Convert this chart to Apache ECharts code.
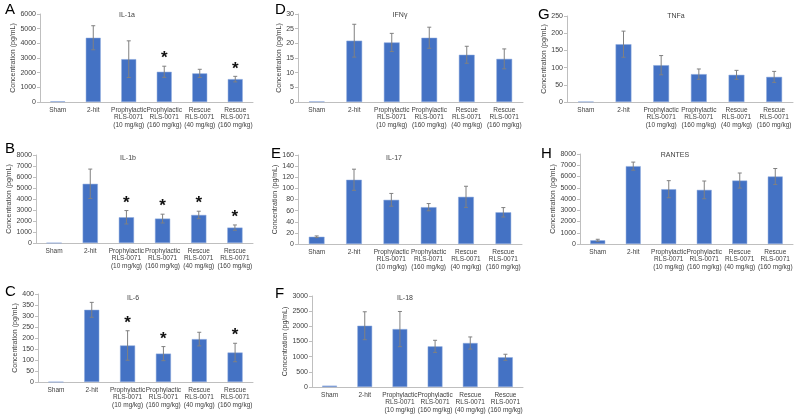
<!DOCTYPE html>
<html><head><meta charset="utf-8">
<script src="https://cdn.jsdelivr.net/npm/echarts@6/dist/echarts.min.js"></script>
<style>html,body{margin:0;padding:0;background:#fff}#c{width:800px;height:414px}</style>
</head><body><div id="c"></div>
<script>
const categories = ['Sham', '2-hit', 'Prophylactic\nRLS-0071\n(10 mg/kg)', 'Prophylactic\nRLS-0071\n(160 mg/kg)', 'Rescue\nRLS-0071\n(40 mg/kg)', 'Rescue\nRLS-0071\n(160 mg/kg)'];

const il1aMean = [50, 4380, 2920, 2060, 1950, 1560];
const il1aSd   = [0, 820, 1250, 380, 280, 190];
const il1aStar = [0, 0, 0, 1, 0, 1];

const il1bMean = [0, 5380, 2340, 2220, 2550, 1400];
const il1bSd   = [0, 1340, 610, 400, 340, 240];
const il1bStar = [0, 0, 1, 1, 1, 1];

const il6Mean = [0, 328, 166, 129, 195, 134];
const il6Sd   = [0, 34, 67, 32, 31, 42];
const il6Star = [0, 0, 1, 1, 0, 1];

const ifngMean = [0.2, 20.9, 20.3, 21.9, 16.1, 14.7];
const ifngSd   = [0, 5.6, 3.1, 3.6, 2.9, 3.4];
const ifngStar = [0, 0, 0, 0, 0, 0];

const il17Mean = [13, 115.5, 79.4, 66.2, 84.8, 57];
const il17Sd   = [1.5, 19, 11.5, 6.5, 19, 8.5];
const il17Star = [0, 0, 0, 0, 0, 0];

const il18Mean = [44, 2020, 1910, 1340, 1450, 980];
const il18Sd   = [0, 460, 580, 200, 200, 100];
const il18Star = [0, 0, 0, 0, 0, 0];

const tnfaMean = [1, 168, 107, 81, 79, 73];
const tnfaSd   = [0, 38, 28, 15, 13, 16];
const tnfaStar = [0, 0, 0, 0, 0, 0];

const rantesMean = [330, 6920, 4870, 4810, 5640, 6000];
const rantesSd   = [90, 360, 760, 790, 670, 710];
const rantesStar = [0, 0, 0, 0, 0, 0];

const yMax = { A: 6000, B: 8000, C: 400, D: 30, E: 160, F: 3000, G: 250, H: 8000 };
const yStep = { A: 1000, B: 1000, C: 50, D: 5, E: 20, F: 500, G: 50, H: 1000 };

const panels = [
  { letter: 'A', title: 'IL-1a', mean: il1aMean, sd: il1aSd, star: il1aStar, g: [40, 14, 213, 88], tx: 127, ty: 15, lx: 5, ly: 2, ng: 20 },
  { letter: 'B', title: 'IL-1b', mean: il1bMean, sd: il1bSd, star: il1bStar, g: [36, 155, 217, 88], tx: 128, ty: 158, lx: 5, ly: 141, ng: 20 },
  { letter: 'C', title: 'IL-6', mean: il6Mean, sd: il6Sd, star: il6Star, g: [38, 294, 215, 88], tx: 133, ty: 298, lx: 5, ly: 284, ng: 15 },
  { letter: 'D', title: 'IFNγ', mean: ifngMean, sd: ifngSd, star: ifngStar, g: [298, 14, 225, 88], tx: 400, ty: 15, lx: 275, ly: 2, ng: 11 },
  { letter: 'E', title: 'IL-17', mean: il17Mean, sd: il17Sd, star: il17Star, g: [298, 155, 224, 89], tx: 394, ty: 158, lx: 271, ly: 146, ng: 14 },
  { letter: 'F', title: 'IL-18', mean: il18Mean, sd: il18Sd, star: il18Star, g: [312, 296, 211, 91], tx: 405, ty: 298, lx: 275, ly: 286, ng: 19 },
  { letter: 'G', title: 'TNFa', mean: tnfaMean, sd: tnfaSd, star: tnfaStar, g: [567, 16, 226, 86], tx: 676, ty: 16, lx: 538, ly: 7, ng: 12 },
  { letter: 'H', title: 'RANTES', mean: rantesMean, sd: rantesSd, star: rantesStar, g: [580, 154, 213, 90], tx: 675, ty: 155, lx: 541, ly: 146, ng: 20 }
];

const FONT = 'Liberation Sans, Arial, sans-serif';
const grid = [], xAxis = [], yAxis = [], series = [], graphic = [];

panels.forEach((p, i) => {
  const [l, t, w, h] = p.g;
  grid.push({ left: l, top: t, width: w, height: h, containLabel: false });
  xAxis.push({
    type: 'category', gridIndex: i, data: categories,
    axisLine: { lineStyle: { color: '#bfbfbf', width: 1 } },
    axisTick: { show: false },
    axisLabel: { interval: 0, fontSize: 6.5, color: '#404040', fontFamily: FONT, lineHeight: 7.5, margin: 4 }
  });
  yAxis.push({
    type: 'value', gridIndex: i, min: 0, max: yMax[p.letter], interval: yStep[p.letter],
    name: 'Concentration (pg/mL)', nameLocation: 'middle', nameRotate: 90,
    nameGap: p.ng,
    nameTextStyle: { fontSize: 7, color: '#404040', fontFamily: FONT },
    axisLine: { show: true, lineStyle: { color: '#bfbfbf', width: 1 } },
    axisTick: { show: true, length: 3, lineStyle: { color: '#bfbfbf' } },
    splitLine: { show: false },
    axisLabel: { fontSize: 7, color: '#404040', fontFamily: FONT, margin: 4, formatter: v => String(v) }
  });
  series.push({
    type: 'bar', xAxisIndex: i, yAxisIndex: i, data: p.mean, barWidth: '42%',
    itemStyle: { color: '#4472C4', borderColor: '#8faadc', borderWidth: 0.5 },
    silent: true
  });
  const errData = p.mean.map((m, k) => [k, m, p.sd[k], p.star[k]]);
  series.push({
    type: 'custom', xAxisIndex: i, yAxisIndex: i, data: errData, z: 5, silent: true,
    renderItem: function (params, api) {
      const x = api.value(0), m = api.value(1), s = api.value(2), st = api.value(3);
      const children = [];
      const top = api.coord([x, m + s]);
      const bot = api.coord([x, m - s]);
      if (s > 0) {
        const style = { stroke: '#808080', lineWidth: 1 };
        children.push({ type: 'line', shape: { x1: top[0], y1: top[1], x2: bot[0], y2: bot[1] }, style: style });
        children.push({ type: 'line', shape: { x1: top[0] - 2, y1: top[1], x2: top[0] + 2, y2: top[1] }, style: style });
        children.push({ type: 'line', shape: { x1: bot[0] - 2, y1: bot[1], x2: bot[0] + 2, y2: bot[1] }, style: style });
      }
      if (st) {
        children.push({ type: 'text', style: { text: '*', x: top[0], y: top[1] + 1, align: 'center', verticalAlign: 'bottom', fill: '#111', font: 'bold 17px ' + FONT } });
      }
      return { type: 'group', children: children };
    }
  });
  graphic.push({
    type: 'text', x: p.tx, y: p.ty, silent: true,
    style: { text: p.title, align: 'center', verticalAlign: 'middle', fill: '#404040', font: '7px ' + FONT }
  });
  graphic.push({
    type: 'text', x: p.lx, y: p.ly, silent: true,
    style: { text: p.letter, align: 'left', verticalAlign: 'top', fill: '#000', font: '15px ' + FONT }
  });
});

const chart = echarts.init(document.getElementById('c'), null, { renderer: 'canvas' });
chart.setOption({ animation: false, backgroundColor: '#fff', grid, xAxis, yAxis, series, graphic });
</script>
</body></html>
